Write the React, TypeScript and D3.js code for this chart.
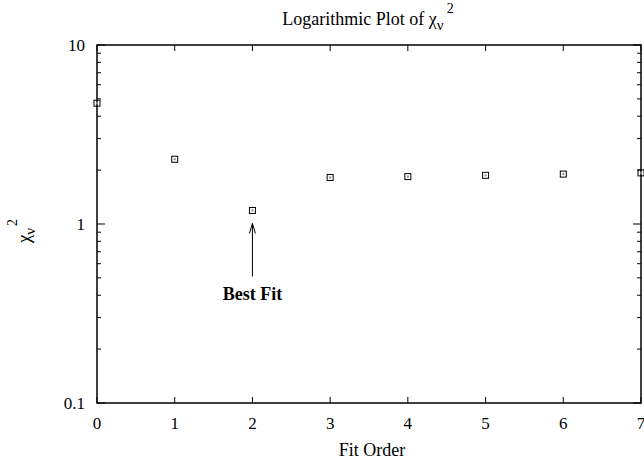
import React from "react";
import * as d3 from "d3";

const fitOrders = [0, 1, 2, 3, 4, 5, 6, 7];
const chiSquared = [4.73, 2.3, 1.19, 1.82, 1.84, 1.87, 1.9, 1.93];
const xTicks = [0, 1, 2, 3, 4, 5, 6, 7];
const yMajorTicks = [0.1, 1, 10];
const yTickLabels = ["0.1", "1", "10"];
const bestFitOrder = 2;

const W = 644;
const H = 465;
const m = { left: 97, right: 3, top: 45, bottom: 62 };

export default function App() {
  const x = d3.scaleLinear().domain([0, 7]).range([m.left, W - m.right]);
  const y = d3.scaleLog().domain([0.1, 10]).range([H - m.bottom, m.top]);
  const font = "'Liberation Serif', 'Times New Roman', serif";

  const minor: number[] = [];
  for (const d of [0.1, 1]) for (let k = 2; k <= 9; k++) minor.push(d * k);

  const x0 = x(0), x1 = x(7), y0 = y(0.1), y1 = y(10);
  const ax = x(bestFitOrder);
  const ay = y(chiSquared[fitOrders.indexOf(bestFitOrder)]) + 13;

  return (
    <svg width={W} height={H} style={{ position: "absolute", left: 0, top: 0 }} fontFamily={font}>
      <rect width={W} height={H} fill="#fff" />
      <text x={368} y={25} fontSize={18} textAnchor="middle">
        Logarithmic Plot of χ<tspan dy={5} fontSize={15}>ν</tspan>
        <tspan dy={-17} dx={3} fontSize={14}>2</tspan>
      </text>
      {/* y minor ticks, mirrored on the right */}
      {minor.map((v) => (
        <g key={"mn" + v} stroke="#000" strokeWidth={1}>
          <line x1={x0} x2={x0 + 4} y1={y(v)} y2={y(v)} />
          <line x1={x1} x2={x1 - 4} y1={y(v)} y2={y(v)} />
        </g>
      ))}
      {yMajorTicks.map((v, i) => (
        <g key={"mj" + v}>
          <line x1={x0} x2={x0 + 8} y1={y(v)} y2={y(v)} stroke="#000" />
          <line x1={x1} x2={x1 - 8} y1={y(v)} y2={y(v)} stroke="#000" />
          <text x={x0 - 12} y={y(v) + 6} fontSize={17} textAnchor="end">{yTickLabels[i]}</text>
        </g>
      ))}
      {xTicks.map((v) => (
        <g key={"xt" + v}>
          <line x1={x(v)} x2={x(v)} y1={y0} y2={y0 - 6} stroke="#000" />
          <line x1={x(v)} x2={x(v)} y1={y1} y2={y1 + 6} stroke="#000" />
          <text x={x(v)} y={y0 + 26} fontSize={17} textAnchor="middle">{v}</text>
        </g>
      ))}
      <rect x={x0} y={y1} width={x1 - x0} height={y0 - y1} fill="none" stroke="#000" strokeWidth={1.5} />
      <text x={372} y={456} fontSize={18} textAnchor="middle">Fit Order</text>
      <g transform="translate(30,231) rotate(-90)">
        <text fontSize={19} textAnchor="middle">
          χ<tspan dy={5} fontSize={15}>ν</tspan>
          <tspan dy={-18} dx={2} fontSize={14}>2</tspan>
        </text>
      </g>
      {fitOrders.map((o, i) => (
        <g key={"pt" + o}>
          <rect x={x(o) - 3} y={y(chiSquared[i]) - 3} width={6} height={6} fill="none" stroke="#000" strokeWidth={1} />
          <rect x={x(o) - 1} y={y(chiSquared[i]) - 1} width={2} height={2} fill="#888" />
        </g>
      ))}
      <line x1={ax} x2={ax} y1={ay + 53} y2={ay} stroke="#000" strokeWidth={1} />
      <path d={`M${ax - 3},${ay + 10} L${ax},${ay} L${ax + 3},${ay + 10}`} fill="none" stroke="#000" />
      <text x={ax} y={ay + 77} fontSize={18} fontWeight="bold" textAnchor="middle">Best Fit</text>
    </svg>
  );
}
